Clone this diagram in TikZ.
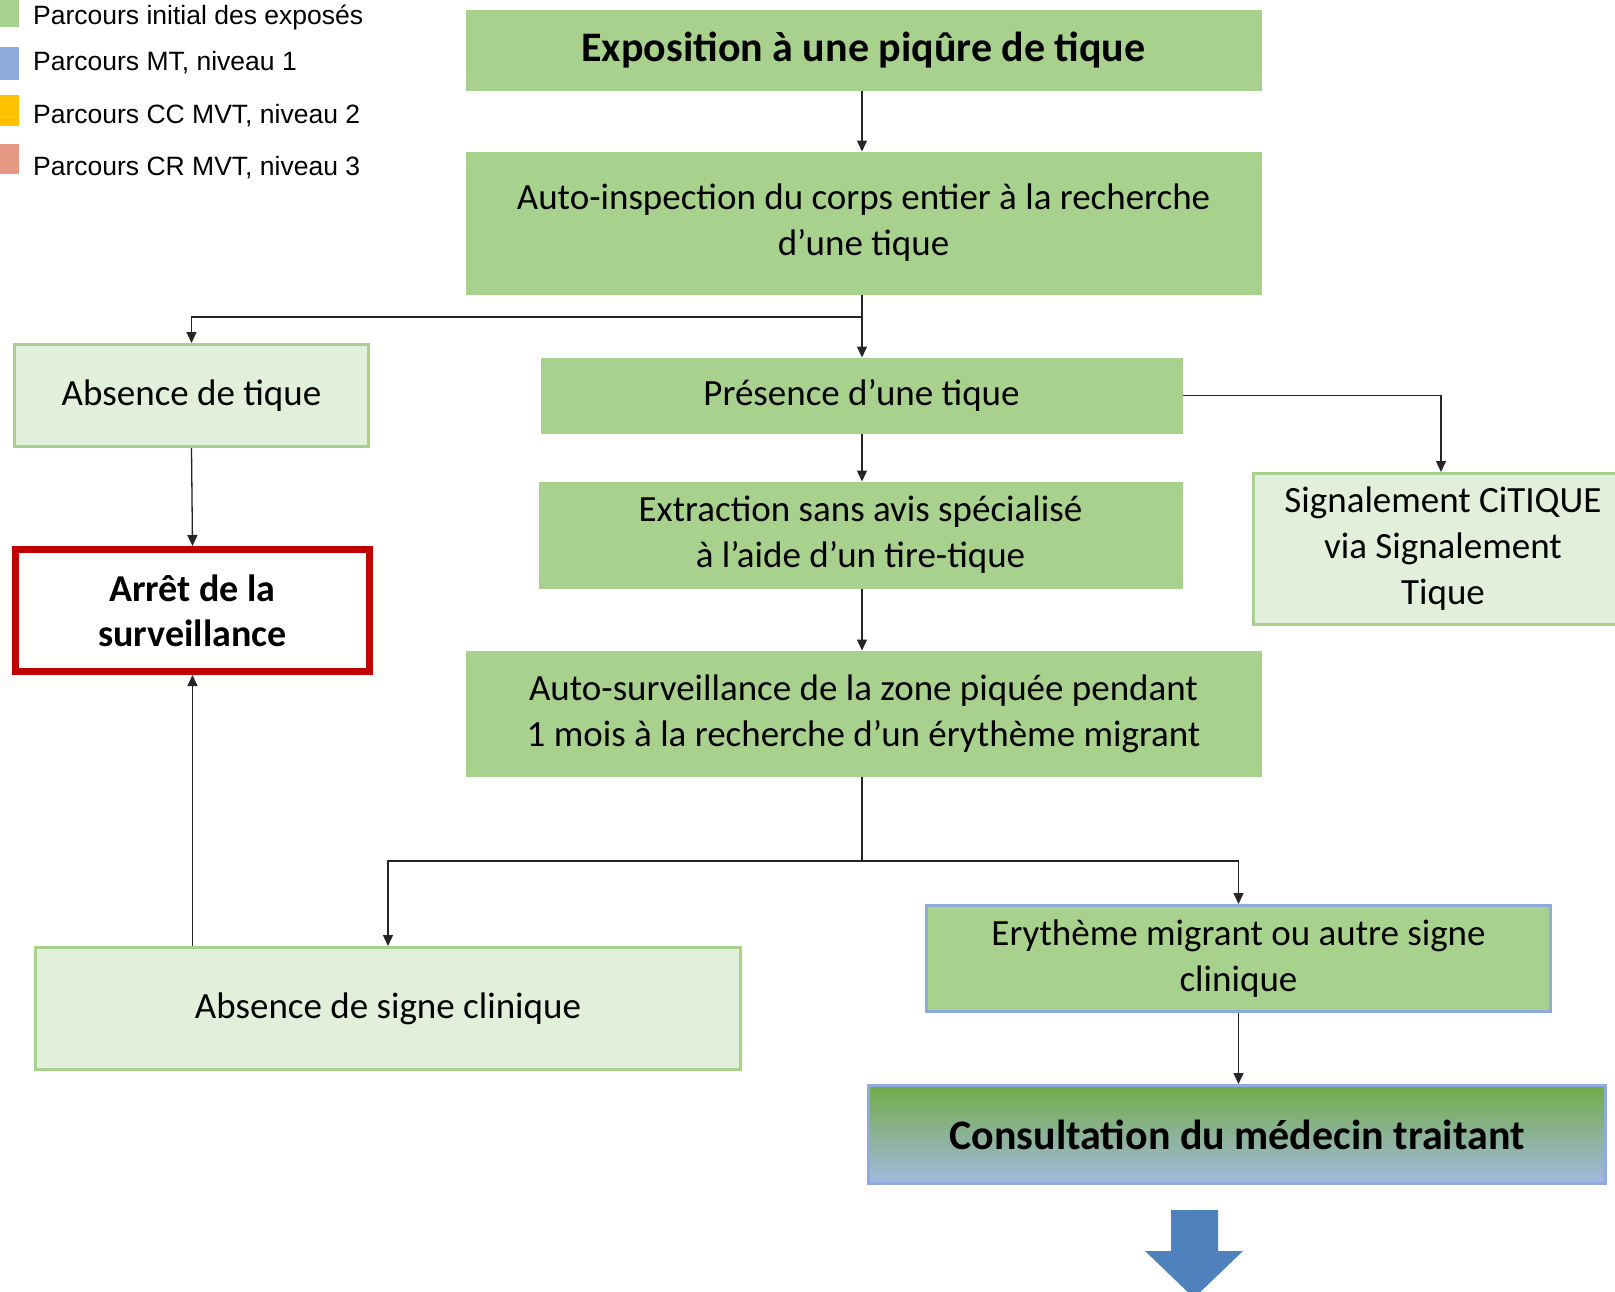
\documentclass[tikz,border=0pt]{standalone}
\usepackage{fontspec}
\setmainfont{Carlito}
\newfontfamily\legendfont{Liberation Sans}
\usetikzlibrary{arrows.meta}
\definecolor{gfill}{RGB}{169,209,142}
\definecolor{lfill}{RGB}{226,239,218}
\definecolor{bluebd}{RGB}{143,170,220}
\definecolor{legyellow}{RGB}{255,192,0}
\definecolor{legsalmon}{RGB}{228,152,132}
\definecolor{redbd}{RGB}{192,0,0}
\definecolor{bigarrow}{RGB}{79,129,189}
\definecolor{gradtop}{RGB}{112,173,71}
\definecolor{gradmid}{RGB}{140,178,150}
\definecolor{gradbot}{RGB}{162,184,224}
\tikzset{
  basebox/.style={rectangle, inner sep=0pt, align=center, font=\fontsize{37}{46}\selectfont},
  gbox/.style={basebox, fill=gfill, draw=gfill, line width=1pt},
  lbox/.style={basebox, fill=lfill, draw=gfill, line width=3pt},
  arr/.style={draw=black!85, line width=1.3pt, -{Triangle[length=11pt,width=10pt]}},
  ln/.style={draw=black!85, line width=1.3pt},
  legtext/.style={anchor=base west, inner sep=0pt, font=\legendfont\fontsize{26.5}{30}\selectfont}
}
\begin{document}
\begin{tikzpicture}[x=1pt,y=-1pt]
\useasboundingbox (0,0) rectangle (1615,1291);
\clip (0,0) rectangle (1615,1291);
% legend
\fill[gfill] (0,-2) rectangle (19,27);
\fill[bluebd] (0,47) rectangle (19,80);
\fill[legyellow] (0,95) rectangle (19,126);
\fill[legsalmon] (0,144) rectangle (19,174);
\node[legtext] (l1) at (33,24) {Parcours initial des exposés};
\node[legtext] (l2) at (33,70) {Parcours MT, niveau 1};
\node[legtext] (l3) at (33,123) {Parcours CC MVT, niveau 2};
\node[legtext] (l4) at (33,175) {Parcours CR MVT, niveau 3};
% boxes
\node[gbox, minimum width=795, minimum height=80, font=\fontsize{42}{50}\selectfont\bfseries] (expo) at (863.5,50) {\raisebox{-3pt}{Exposition à une piqûre de tique}};
\node[gbox, minimum width=795, minimum height=142] (insp) at (863.5,223) {Auto-inspection du corps entier à la recherche\\d’une tique};
\node[lbox, minimum width=354, minimum height=102] (absT) at (191.5,395.5) {Absence de tique};
\node[gbox, minimum width=641, minimum height=75] (pres) at (861.5,395.5) {Présence d’une tique};
\node[lbox, minimum width=380, minimum height=151] (sig) at (1443,549) {Signalement CiTIQUE\\via Signalement\\Tique};
\node[gbox, minimum width=643, minimum height=106] (extr) at (860.5,535) {Extraction sans avis spécialisé\\à l’aide d’un tire-tique};
\node[basebox, draw=redbd, line width=7pt, fill=white, minimum width=354, minimum height=122, font=\fontsize{38}{45}\selectfont\bfseries] (arret) at (192.5,610.5) {Arrêt de la\\surveillance};
\node[gbox, minimum width=795, minimum height=125] (surv) at (863.5,713.5) {Auto-surveillance de la zone piquée pendant\\1 mois à la recherche d’un érythème migrant};
\node[lbox, minimum width=705, minimum height=122] (absS) at (388,1008.5) {Absence de signe clinique};
\node[basebox, fill=gfill, draw=bluebd, line width=3pt, minimum width=624, minimum height=106] (ery) at (1238.5,958.5) {Erythème migrant ou autre signe\\clinique};
\node[basebox, draw=bluebd, line width=3pt, top color=gradtop, bottom color=gradbot, middle color=gradmid, minimum width=737, minimum height=98, font=\fontsize{42}{50}\selectfont\bfseries] (cons) at (1237,1134.5) {Consultation du médecin traitant};
% junctions
\coordinate (j1) at (862,317);
\coordinate (j2) at (862,861);
% connectors
\draw[arr] (expo.south -| j1) -- (insp.north -| j1);
\draw[ln] (insp.south -| j1) -- (j1);
\draw[arr] (j1) -- (pres.north -| j1);
\draw[arr] (j1) -| (absT.north);
\draw[arr] (pres.east) -| ([xshift=-2pt]sig.north);
\draw[arr] (pres.south -| j1) -- (extr.north -| j1);
\draw[arr] (extr.south -| j1) -- (surv.north -| j1);
\draw[ln] (surv.south -| j2) -- (j2);
\draw[arr] (j2) -| (absS.north);
\draw[arr] (j2) -| (ery.north);
\draw[arr] (absT.south) -- (arret.north);
\draw[arr] (absS.north -| arret.south) -- (arret.south);
\draw[arr] (ery.south) -- (ery.south |- cons.north);
% big arrow
\fill[bigarrow] (1171,1210) -- (1218,1210) -- (1218,1251) -- (1243,1251) -- (1194,1298) -- (1145,1251) -- (1171,1251) -- cycle;
\end{tikzpicture}
\end{document}
